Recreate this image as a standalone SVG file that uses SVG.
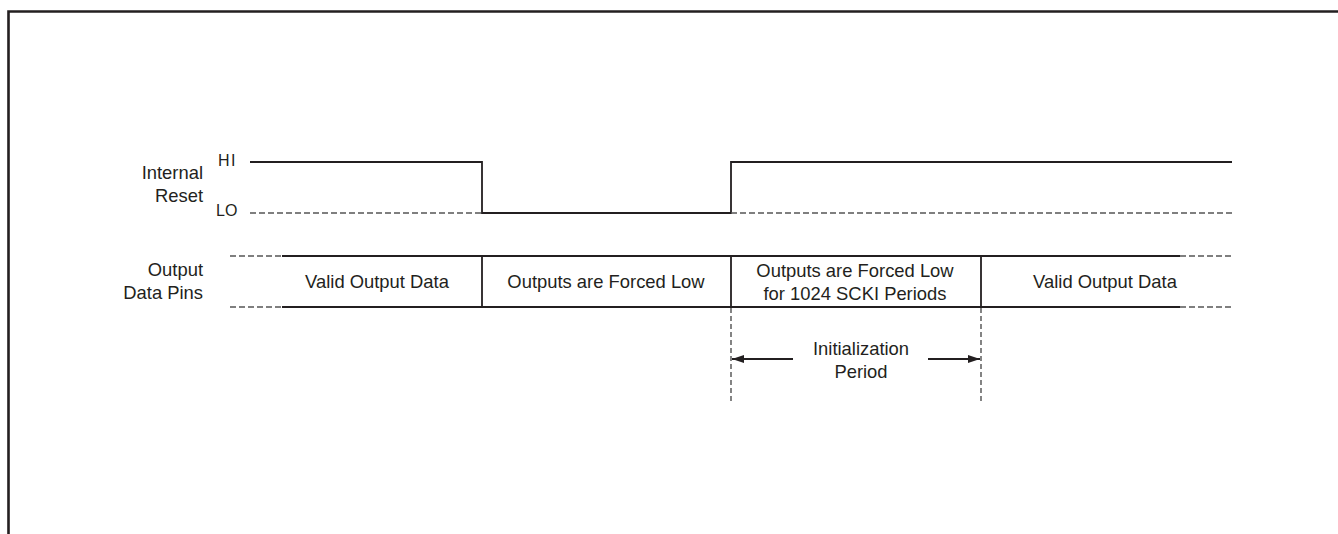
<svg xmlns="http://www.w3.org/2000/svg" width="1338" height="534" viewBox="0 0 1338 534">
<style>
.t{font-family:"Liberation Sans",Arial,sans-serif;font-size:18.4px;fill:#231f20}
.s{font-family:"Liberation Sans",Arial,sans-serif;font-size:16px;fill:#231f20}
.ln{stroke:#231f20;stroke-width:1.8;fill:none}
.dl{stroke:#555;stroke-width:1.4;stroke-dasharray:6 3;fill:none}
.vd{stroke:#333;stroke-width:1.2;stroke-dasharray:5 3;fill:none}
</style>
<defs>
<marker id="ah" viewBox="0 0 12 8" refX="12" refY="4" markerWidth="12" markerHeight="8" markerUnits="userSpaceOnUse" orient="auto">
<path d="M0,0 L12,4 L0,8 Z" fill="#231f20"/>
</marker>
</defs>
<rect width="1338" height="534" fill="#fff"/>
<path d="M8.5,534 V11.5 H1338" stroke="#231f20" stroke-width="2.6" fill="none"/>
<g id="labels">
<text class="t" x="203" y="179" text-anchor="end">Internal</text>
<text class="t" x="203" y="202" text-anchor="end">Reset</text>
<text class="s" x="218" y="166" letter-spacing="1.5">HI</text>
<text class="s" x="216" y="216">LO</text>
<text class="t" x="203" y="276" text-anchor="end">Output</text>
<text class="t" x="203" y="299" text-anchor="end">Data Pins</text>
</g>
<g id="reset-signal">
<path class="ln" d="M250,162 H482 V213 H731 V162 H1232"/>
<path class="dl" d="M250,213 H482 M731,213 H1232"/>
</g>
<g id="output-bus">
<path class="ln" d="M282,256 H1180 M282,307 H1180 M482,256 V307 M731,256 V307 M981,256 V307"/>
<path class="dl" d="M230,256 H282 M230,307 H282 M1180,256 H1232 M1180,307 H1232"/>
</g>
<g id="seg1"><text class="t" x="377" y="288" text-anchor="middle">Valid Output Data</text></g>
<g id="seg2"><text class="t" x="606" y="288" text-anchor="middle">Outputs are Forced Low</text></g>
<g id="seg3"><text class="t" x="855" y="277" text-anchor="middle">Outputs are Forced Low</text><text class="t" x="855" y="300" text-anchor="middle">for 1024 SCKI Periods</text></g>
<g id="seg4"><text class="t" x="1105" y="288" text-anchor="middle">Valid Output Data</text></g>
<g id="connectors">
<path class="vd" d="M731,308 V401"/>
<path class="vd" d="M981,308 V401" stroke="#888"/>
<path class="ln" d="M793,359 H732" marker-end="url(#ah)"/>
<path class="ln" d="M928,359 H980" marker-end="url(#ah)"/>
</g>
<g id="init-label">
<text class="t" x="861" y="355" text-anchor="middle">Initialization</text>
<text class="t" x="861" y="378" text-anchor="middle">Period</text>
</g>
</svg>
